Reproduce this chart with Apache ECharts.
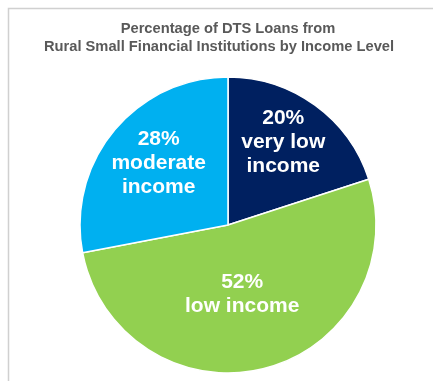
<!DOCTYPE html>
<html>
<head>
<meta charset="utf-8">
<script src="https://cdn.jsdelivr.net/npm/echarts@6/dist/echarts.min.js"></script>
<style>
  html, body { margin: 0; padding: 0; background: #fff; }
  #chart { width: 433px; height: 381px; }
</style>
</head>
<body>
<div id="chart"></div>
<script>
'use strict';
var titleLines = ['Percentage of DTS Loans from', 'Rural Small Financial Institutions by Income Level'];
var categories = ['very low income', 'low income', 'moderate income'];
var labelNames = ['very low\nincome', 'low income', 'moderate\nincome'];
var values = [20, 52, 28];
var colors = ['#002060', '#92D050', '#00B0F0'];
var labelOffsets = [[10, -21], [-5, -5], [-10, -13]];

var chart = echarts.init(document.getElementById('chart'));

var pieData = [];
for (var i = 0; i < categories.length; i++) {
    pieData.push({
        name: categories[i],
        value: values[i],
        itemStyle: { color: colors[i] },
        label: { offset: labelOffsets[i] }
    });
}

var titleStyle = { color: '#595959', fontSize: 14.7, fontWeight: 'bold', fontFamily: 'Liberation Sans' };

var option = {
    animation: false,
    title: [{
        text: titleLines[0],
        left: 223,
        top: 16,
        textAlign: 'center',
        textStyle: titleStyle
    }, {
        text: titleLines[1],
        left: 214,
        top: 34,
        textAlign: 'center',
        textStyle: titleStyle
    }],
    graphic: [{
        type: 'polyline',
        shape: { points: [[8.5, 400], [8.5, 8.5], [440, 8.5]] },
        style: { stroke: '#d0d0d0', lineWidth: 1.5, fill: null }
    }],
    series: [{
        type: 'pie',
        center: [228, 225],
        radius: 148,
        startAngle: 90,
        clockwise: true,
        data: pieData,
        itemStyle: { borderColor: '#fff', borderWidth: 1.5 },
        label: {
            show: true,
            position: 'inside',
            color: '#fff',
            fontFamily: 'Liberation Sans',
            fontWeight: 'bold',
            fontSize: 21,
            lineHeight: 24,
            formatter: function (p) {
                return p.value + '%\n' + labelNames[p.dataIndex];
            }
        },
        labelLine: { show: false },
        emphasis: { disabled: true }
    }]
};

chart.setOption(option);
</script>
</body>
</html>
